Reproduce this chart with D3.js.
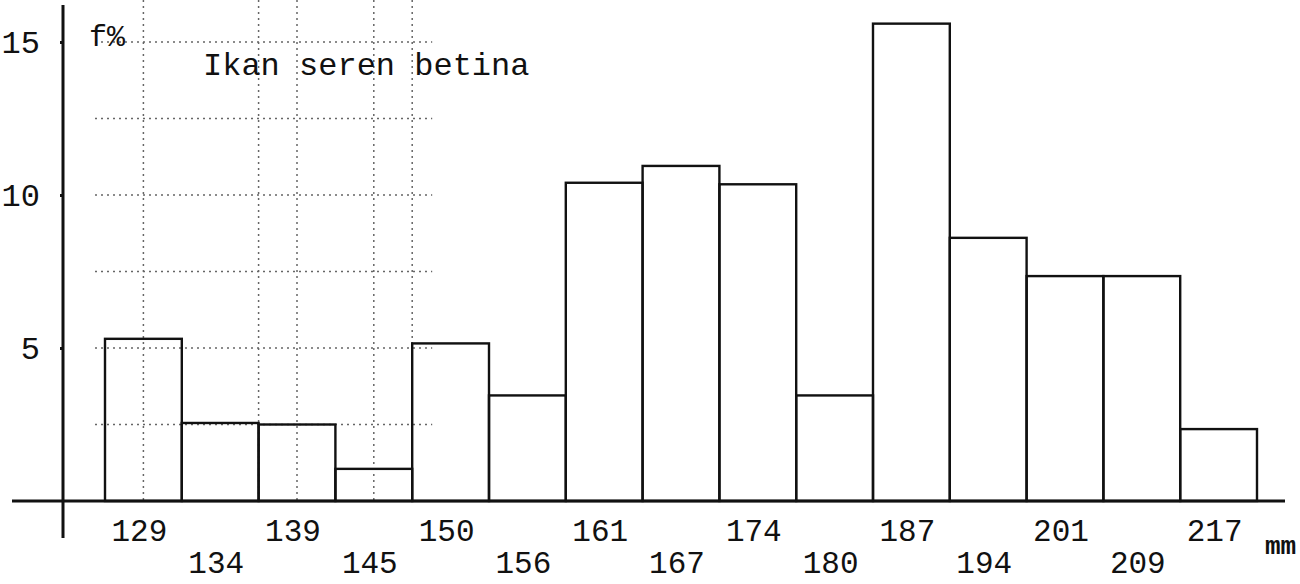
<!DOCTYPE html>
<html>
<head>
<meta charset="utf-8">
<script src="https://cdn.jsdelivr.net/npm/d3@7"></script>
<style>
  body { margin: 0; background: #fff; }
  #chart { width: 1300px; height: 584px; }
  text { font-family: "Liberation Mono", "DejaVu Sans Mono", monospace; fill: #111; }
</style>
</head>
<body>
<div id="chart"></div>
<script>

// class labels (mm), alternate rows under the axis
var classes = ["129","134","139","145","150","156","161","167","174","180","187","194","201","209","217"];
// frequency in percent
var freq = [5.3, 2.55, 2.5, 1.05, 5.15, 3.45, 10.4, 10.95, 10.35, 3.45, 15.6, 8.6, 7.35, 7.35, 2.35];
var yTicks = [5, 10, 15];
// faint graph paper showing through on the left
var paperRows = [2.5, 5, 7.5, 10, 12.5, 15];
var paperCols = ["129","139","145"];

var width = 1300, height = 584;

var svg = d3.select("#chart")
    .append("svg")
    .attr("width", width)
    .attr("height", height);

var x = d3.scaleBand()
    .domain(classes)
    .range([105, 1257])
    .padding(0);

var y = d3.scaleLinear()
    .domain([0, 15])
    .range([501, 42]);

// graph paper remnants
var paper = svg.append("g")
    .attr("stroke", "#666")
    .attr("stroke-width", 1.5)
    .attr("stroke-dasharray", "2,4");

paper.selectAll(".prow")
    .data(paperRows)
    .enter()
    .append("line")
    .attr("x1", x("129") - 10)
    .attr("x2", x("150") + 20)
    .attr("y1", function(d){ return y(d); })
    .attr("y2", function(d){ return y(d); });

paper.selectAll(".pcol")
    .data(paperCols)
    .enter()
    .append("line")
    .attr("x1", function(d){ return x(d) + x.bandwidth()/2; })
    .attr("x2", function(d){ return x(d) + x.bandwidth()/2; })
    .attr("y1", 0)
    .attr("y2", y(0));

paper.selectAll(".pedge")
    .data(["139","150"])
    .enter()
    .append("line")
    .attr("x1", function(d){ return x(d); })
    .attr("x2", function(d){ return x(d); })
    .attr("y1", 0)
    .attr("y2", y(0));

// bars
svg.selectAll("rect")
    .data(freq)
    .enter()
    .append("rect")
    .attr("x", function(d, i){ return x(classes[i]); })
    .attr("y", function(d){ return y(d); })
    .attr("width", x.bandwidth())
    .attr("height", function(d){ return y(0) - y(d); })
    .attr("fill", "none")
    .attr("stroke", "#111")
    .attr("stroke-width", 2.4);

// baseline
svg.append("line")
    .attr("x1", 12)
    .attr("x2", 1285)
    .attr("y1", y(0))
    .attr("y2", y(0))
    .attr("stroke", "#111")
    .attr("stroke-width", 3);

// y axis
var yAxis = d3.axisLeft(y)
    .tickValues(yTicks)
    .tickSize(3)
    .tickPadding(20)
    .tickFormat(d3.format("d"));

var ga = svg.append("g")
    .attr("transform", "translate(63,0)")
    .call(yAxis);

ga.select(".domain").remove();
ga.selectAll("line").attr("stroke", "#111").attr("stroke-width", 3);
ga.selectAll("text")
    .style("font-family", "'Liberation Mono', monospace")
    .style("font-size", "32px")
    .attr("fill", "#111");

svg.append("line")
    .attr("x1", 63)
    .attr("x2", 63)
    .attr("y1", 5)
    .attr("y2", 538)
    .attr("stroke", "#111")
    .attr("stroke-width", 3);

// class labels
svg.selectAll(".clabel")
    .data(classes)
    .enter()
    .append("text")
    .attr("class", "clabel")
    .attr("x", function(d){ return x(d) + x.bandwidth()/2 - 4; })
    .attr("y", function(d, i){ return i % 2 == 0 ? 541 : 573; })
    .attr("text-anchor", "middle")
    .attr("font-size", "31px")
    .text(function(d){ return d; });

svg.append("text")
    .attr("x", 89)
    .attr("y", 46)
    .attr("font-size", "30px")
    .text("f%");

svg.append("text")
    .attr("x", 203)
    .attr("y", 75)
    .attr("font-size", "32px")
    .text("Ikan seren betina");

svg.append("text")
    .attr("x", 1265)
    .attr("y", 554)
    .attr("font-size", "26px")
    .attr("font-weight", "bold")
    .text("mm");

</script>
</body>
</html>
